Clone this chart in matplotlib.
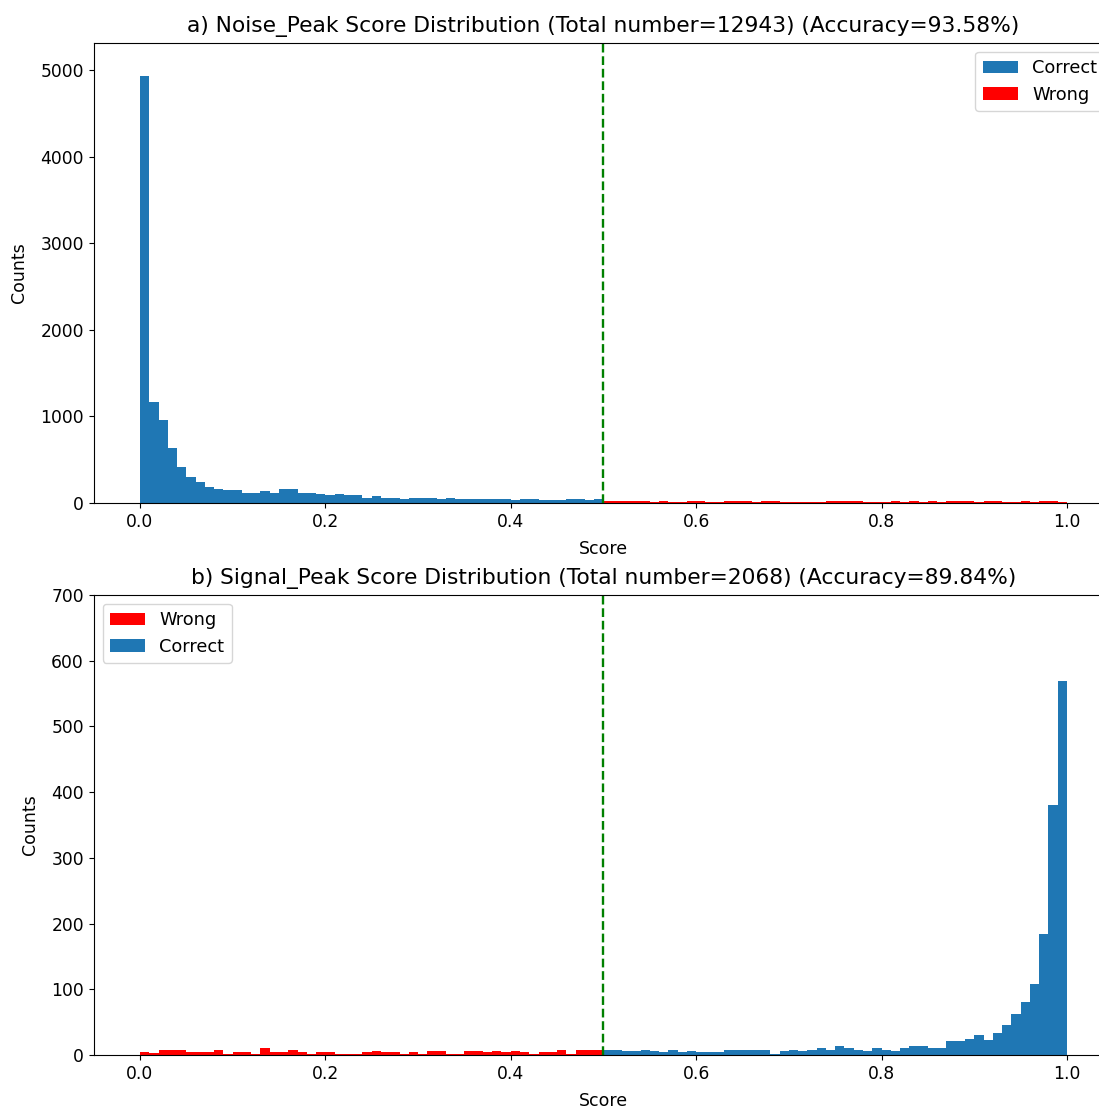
import matplotlib
matplotlib.use("Agg")
import matplotlib.pyplot as plt
import numpy as np

# 100 equal bins on [0, 1]
edges = np.linspace(0, 1, 101)

# a) noise peaks: counts per bin, correct below 0.5, wrong above
noise_correct = [4930, 1166, 958, 639, 412, 304, 246, 185, 158, 152,
                 152, 118, 118, 137, 118, 164, 164, 118, 118, 106,
                 95, 106, 91, 91, 59, 77, 62, 62, 50, 62,
                 62, 62, 50, 62, 46, 46, 46, 46, 46, 46,
                 31, 46, 46, 31, 31, 31, 46, 46, 31, 46]
noise_wrong = [22, 22, 22, 22, 22, 10, 22, 10, 10, 22,
               22, 10, 10, 22, 22, 22, 10, 22, 22, 10,
               10, 10, 10, 10, 22, 22, 22, 22, 10, 10,
               10, 22, 10, 22, 10, 22, 10, 22, 22, 22,
               10, 22, 22, 10, 10, 22, 10, 22, 22, 11]

# b) signal peaks: wrong below 0.5, correct above
signal_wrong = [5, 3, 7, 7, 7, 5, 4, 5, 7, 1,
                4, 4, 1, 10, 5, 5, 7, 5, 2, 4,
                4, 2, 2, 2, 4, 6, 4, 4, 2, 4,
                2, 6, 6, 2, 2, 6, 6, 4, 6, 4,
                6, 4, 2, 4, 5, 7, 2, 7, 7, 8]
signal_correct = [7, 8, 6, 6, 8, 6, 4, 8, 4, 6,
                  4, 4, 4, 8, 8, 8, 8, 8, 1, 6,
                  8, 6, 8, 10, 8, 14, 10, 8, 6, 10,
                  8, 6, 11, 13, 13, 11, 11, 21, 21, 25,
                  31, 23, 33, 45, 63, 80, 108, 184, 381, 569]

noise_title = "a) Noise_Peak Score Distribution (Total number=12943) (Accuracy=93.58%)"
signal_title = "b) Signal_Peak Score Distribution (Total number=2068) (Accuracy=89.84%)"
threshold = 0.5

fig = plt.figure(figsize=(10.99, 11.09), dpi=100)
ax1 = fig.add_axes([0.0852, 0.5464, 0.9278, 0.4148])
ax2 = fig.add_axes([0.0852, 0.0487, 0.9278, 0.4148])

lo = edges[:51]
hi = edges[50:]

ax1.hist(lo[:-1], bins=lo, weights=noise_correct, color="#1f77b4", label="Correct")
ax1.hist(hi[:-1], bins=hi, weights=noise_wrong, color="red", label="Wrong")
ax1.axvline(threshold, color="green", linestyle="--", linewidth=1.7)
ax1.set_ylim(0, 5312)
ax1.set_title(noise_title, fontsize=15.7, pad=8)
ax1.set_xlabel("Score", fontsize=12.5, labelpad=7)
ax1.set_ylabel("Counts", fontsize=12.5, labelpad=9)
ax1.legend(loc="upper right", fontsize=12.8)

ax2.hist(lo[:-1], bins=lo, weights=signal_wrong, color="red", label="Wrong")
ax2.hist(hi[:-1], bins=hi, weights=signal_correct, color="#1f77b4", label="Correct")
ax2.axvline(threshold, color="green", linestyle="--", linewidth=1.7)
ax2.set_ylim(0, 700)
ax2.set_title(signal_title, fontsize=15.7, pad=8)
ax2.set_xlabel("Score", fontsize=12.5, labelpad=7)
ax2.set_ylabel("Counts", fontsize=12.5, labelpad=9)
ax2.legend(loc="upper left", fontsize=12.8)

for ax in (ax1, ax2):
    ax.set_xlim(-0.05, 1.05)
    ax.tick_params(labelsize=12.3)

fig.savefig("out.png", dpi=100)
